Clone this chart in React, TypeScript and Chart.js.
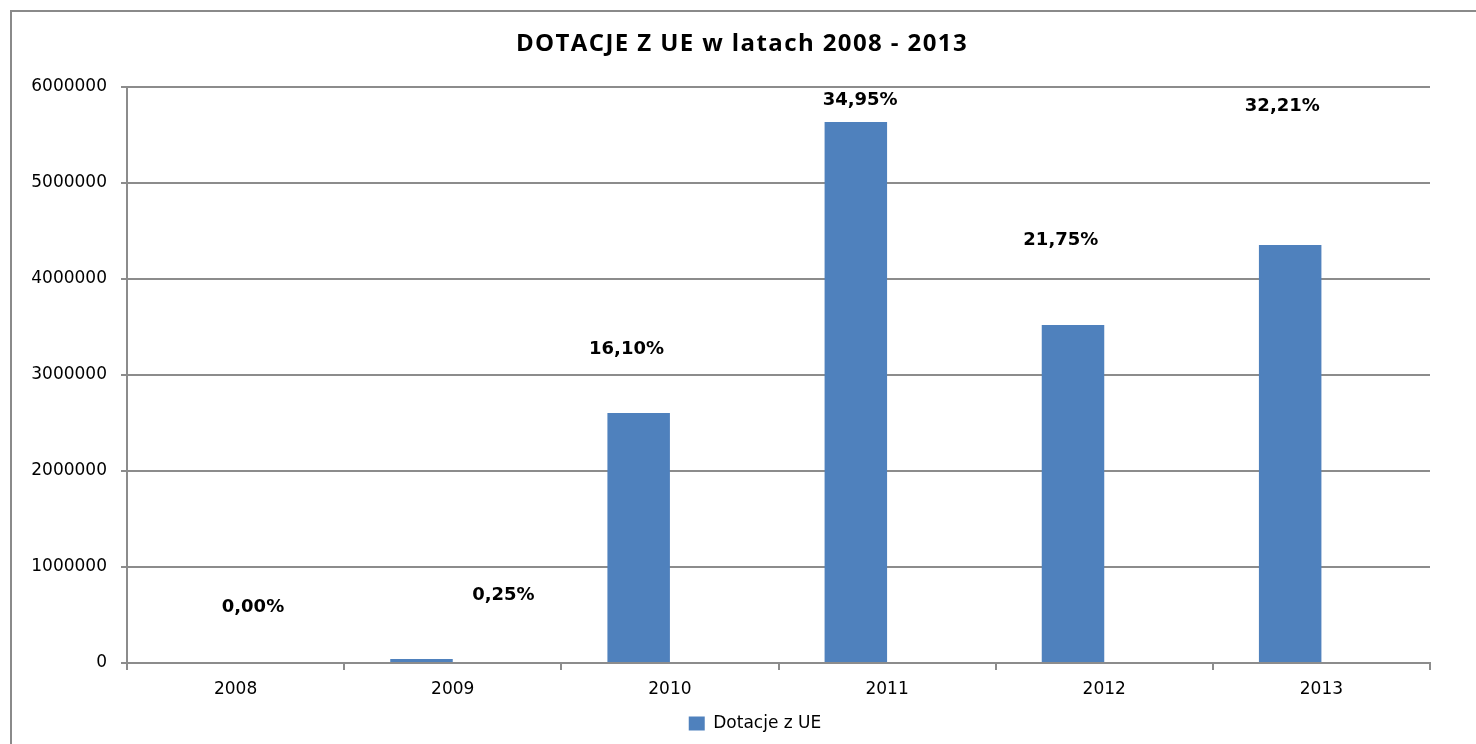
import React, { useEffect, useRef } from "react";
import { Chart, registerables } from "chart.js";

Chart.register(...registerables);

const chartTitle = "DOTACJE Z UE w latach 2008 - 2013";
const categories = ["2008", "2009", "2010", "2011", "2012", "2013"];
const dotacjeValues = [0, 42000, 2605000, 5635000, 3520000, 4355000];
const percentLabels = ["0,00%", "0,25%", "16,10%", "34,95%", "21,75%", "32,21%"];
// where each percentage label sits, in axis units (value) and category fraction (shift)
const percentAnchorValues = [583000, 703000, 3270000, 5865000, 4406000, 5800000];
const percentAnchorShift = [0.08, 0.233, -0.2, -0.124, -0.2, -0.18];
const yTickStep = 1000000;
const yMax = 6000000;

const GRID = "#8c8c8c";
const BAR = "#4f81bd";
const FONT = "'DejaVu Sans', Verdana, sans-serif";

const percentPlugin = {
  id: "percentLabels",
  afterDatasetsDraw(chart: any) {
    const { ctx, scales } = chart;
    const x = scales.x;
    const y = scales.y;
    const catW = (x.right - x.left) / categories.length;
    ctx.save();
    ctx.font = `bold 18px ${FONT}`;
    ctx.fillStyle = "#000";
    ctx.textAlign = "center";
    ctx.textBaseline = "middle";
    percentLabels.forEach((t, i) => {
      const px = x.getPixelForValue(i) + percentAnchorShift[i] * catW;
      const py = y.getPixelForValue(percentAnchorValues[i]);
      ctx.fillText(t, px, py);
    });
    ctx.restore();
  },
};

const titlePlugin = {
  id: "customTitle",
  afterDraw(chart: any) {
    const { ctx } = chart;
    ctx.save();
    ctx.font = "bold 24px 'Open Sans', sans-serif";
    (ctx as any).letterSpacing = "1.4px";
    ctx.fillStyle = "#000";
    ctx.textAlign = "center";
    ctx.textBaseline = "middle";
    ctx.fillText(chartTitle, 742, 44);
    ctx.restore();
  },
};

const framePlugin = {
  id: "frame",
  afterLayout(chart: any) {
    // let the y tick labels draw into the left padding without being clipped
    chart.scales.y.left = 0;
  },
  beforeDraw(chart: any) {
    const { ctx } = chart;
    ctx.save();
    ctx.fillStyle = "#fff";
    ctx.fillRect(0, 0, chart.width, chart.height);
    ctx.strokeStyle = "#8a8a8a";
    ctx.lineWidth = 2;
    ctx.beginPath();
    ctx.moveTo(11, chart.height + 5);
    ctx.lineTo(11, 11);
    ctx.lineTo(chart.width + 5, 11);
    ctx.stroke();
    ctx.restore();
  },
};

export default function App() {
  const ref = useRef<HTMLCanvasElement>(null);
  useEffect(() => {
    if (!ref.current) return;
    const chart = new Chart(ref.current, {
      type: "bar",
      data: {
        labels: categories,
        datasets: [
          {
            label: "Dotacje z UE",
            data: dotacjeValues,
            backgroundColor: BAR,
            borderWidth: 0,
            barPercentage: 1,
            categoryPercentage: 0.5756,
          },
          {
            label: "hidden",
            data: categories.map(() => null),
            backgroundColor: "rgba(0,0,0,0)",
            barPercentage: 1,
            categoryPercentage: 0.5756,
          },
        ],
      },
      options: {
        responsive: false,
        animation: false,
        layout: { padding: { left: 80, right: 46, top: 87, bottom: 2 } },
        plugins: {
          title: { display: false },
          legend: {
            display: true,
            position: "bottom",
            labels: {
              color: "#000",
              font: { family: FONT, size: 17 },
              boxWidth: 16,
              boxHeight: 14,
              padding: 10,
              filter: (item: any) => item.datasetIndex === 0,
            },
          },
          tooltip: { enabled: false },
        },
        scales: {
          x: {
            afterFit: (s: any) => {
              s.height = 42;
            },
            grid: {
              display: true,
              drawOnChartArea: false,
              drawTicks: true,
              tickLength: 7,
              offset: true,
              color: GRID,
              lineWidth: 2,
            },
            border: { display: true, color: GRID, width: 2 },
            ticks: { color: "#000", font: { family: FONT, size: 17 }, padding: 9 },
          },
          y: {
            min: 0,
            max: yMax,
            afterFit: (s: any) => {
              s.width = 47;
            },
            grid: { color: GRID, lineWidth: 2, tickLength: 6 },
            border: { display: true, color: GRID, width: 2 },
            ticks: {
              stepSize: yTickStep,
              color: "#000",
              font: { family: FONT, size: 17 },
              padding: 14,
              callback: (v: any) => String(v),
            },
          },
        },
      },
      plugins: [framePlugin, percentPlugin, titlePlugin],
    });
    return () => chart.destroy();
  }, []);
  return (
    <div style={{ position: "fixed", left: 0, top: 0, width: 1476, height: 744, background: "#fff" }}>
      <canvas ref={ref} width={1476} height={744} style={{ display: "block" }} />
    </div>
  );
}
